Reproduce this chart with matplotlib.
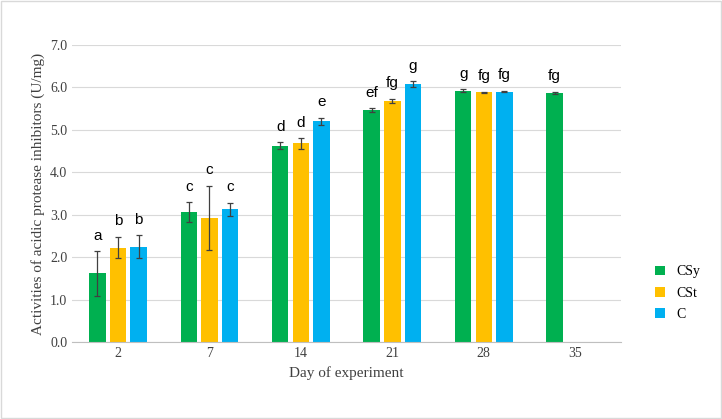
import matplotlib.pyplot as plt
import numpy as np

days = ["2", "7", "14", "21", "28", "35"]
series = ["CSy", "CSt", "C"]
colors = ["#00B050", "#FFC000", "#00B0F0"]
vals = [
    [1.62, 3.07, 4.63, 5.47, 5.92, 5.87],
    [2.23, 2.93, 4.68, 5.68, 5.88, np.nan],
    [2.25, 3.13, 5.20, 6.07, 5.90, np.nan],
]
errs = [
    [0.52, 0.23, 0.08, 0.04, 0.03, 0.03],
    [0.25, 0.75, 0.12, 0.05, 0.02, np.nan],
    [0.27, 0.15, 0.08, 0.07, 0.02, np.nan],
]
letters = [
    ["a", "c", "d", "ef", "g", "fg"],
    ["b", "c", "d", "fg", "fg", ""],
    ["b", "c", "e", "g", "fg", ""],
]

plt.rcParams['font.family'] = ['Liberation Serif']
fig = plt.figure(figsize=(7.22, 4.19), dpi=100)
ax = fig.add_axes([0.1, 0.183, 0.76, 0.71])
x = np.arange(len(days))
w = 0.18
gap = 0.045
for i in range(3):
    xs = x + (i - 1) * (w + gap)
    v = np.array(vals[i])
    e = np.array(errs[i])
    ok = ~np.isnan(v)
    ax.bar(xs[ok], v[ok], w, color=colors[i], label=series[i], zorder=2)
    ax.errorbar(xs[ok], v[ok], yerr=e[ok], fmt="none", ecolor="#404040",
                elinewidth=0.9, capsize=2.5, capthick=0.9, zorder=3)
    for xx, vv, ee, t in zip(xs[ok], v[ok], e[ok], np.array(letters[i])[ok]):
        ax.text(xx, vv + ee + 0.2, t, ha="center", va="bottom",
                fontsize=11, family="Liberation Sans")

ax.set_ylim(0, 7)
ax.set_xlim(-0.5, len(days) - 0.5)
ax.set_yticks(np.arange(0, 7.01, 1))
ax.set_yticklabels([f"{t:.1f}" for t in np.arange(0, 7.01, 1)])
ax.set_xticks(x)
ax.set_xticklabels(days)
ax.tick_params(length=0, labelsize=10, colors="#404040")
ax.grid(axis="y", color="#d9d9d9", linewidth=0.8, zorder=0)
for s in ["top", "right", "left"]:
    ax.spines[s].set_visible(False)
ax.spines["bottom"].set_color("#bfbfbf")
ax.set_xlabel("Day of experiment", fontsize=11, color="#404040")
ax.set_ylabel("Activities of acidic protease inhibitors (U/mg)", fontsize=11, color="#404040")
fig.legend(loc="center left", bbox_to_anchor=(0.89, 0.3), frameon=False,
           fontsize=10, handlelength=0.7, handleheight=0.7, labelspacing=0.6)
fig.patches.append(plt.Rectangle((0.002, 0.002), 0.996, 0.996, transform=fig.transFigure,
                                 fill=False, edgecolor="#d9d9d9", linewidth=1))
fig.savefig("out.png", dpi=100)
